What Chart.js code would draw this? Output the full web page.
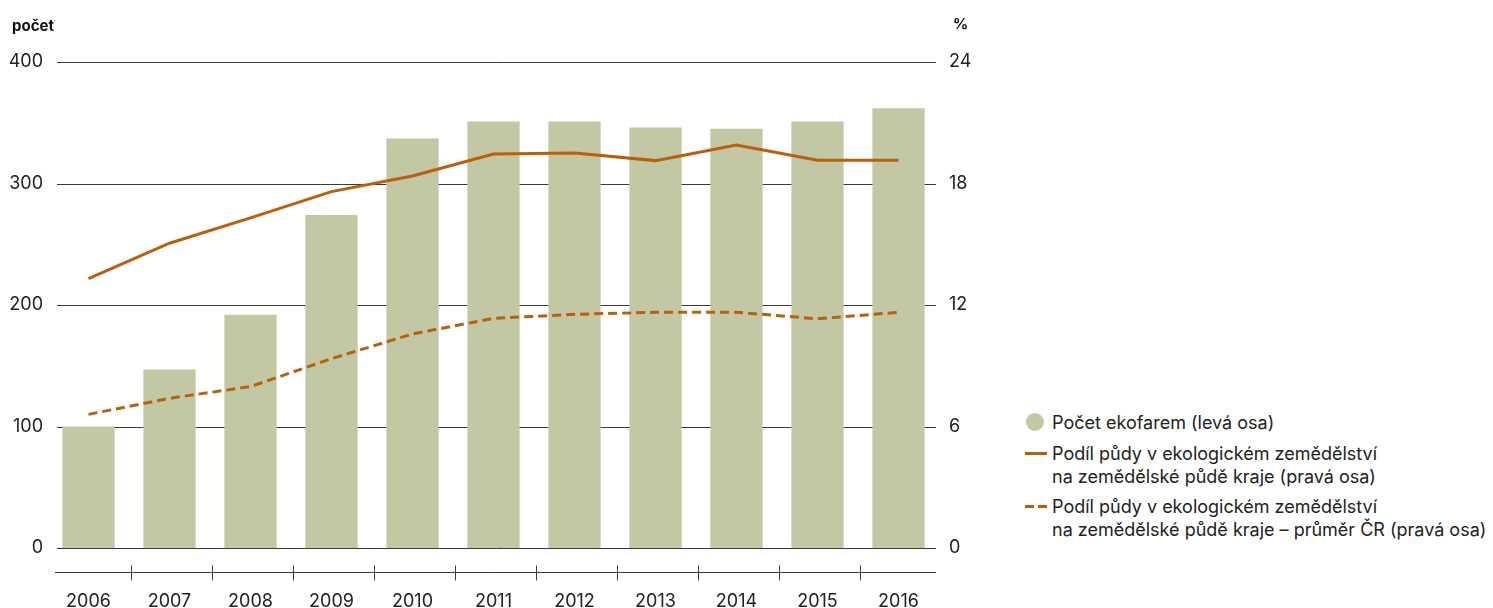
<!DOCTYPE html>
<html lang="cs">
<head>
<meta charset="utf-8">
<script src="https://cdn.jsdelivr.net/npm/chart.js@4"></script>
<style>
  html, body { margin: 0; padding: 0; background: #fff; }
  #wrap { position: relative; width: 1493px; height: 608px; overflow: hidden; font-family: Inter, Roboto, sans-serif; color: #222; }
  #c { position: absolute; left: 0; top: 0; }
  .axtitle { position: absolute; font-weight: 700; font-size: 15px; line-height: 18px; color: #111; }
  .lg { position: absolute; font-size: 18px; line-height: 23px; color: #222; white-space: nowrap; }
  .mk { position: absolute; }
</style>
</head>
<body>
<div id="wrap">
  <canvas id="c" width="1000" height="608"></canvas>
  <div class="axtitle" style="left:12px; top:17px;">počet</div>
  <div class="axtitle" style="left:953px; top:15px;">%</div>
  <div id="legend"></div>
</div>
<script>
const years = ['2006','2007','2008','2009','2010','2011','2012','2013','2014','2015','2016'];
const farmCounts = [100, 147, 192, 274, 337, 351, 351, 346, 345, 351, 362];
const shareRegion = [13.3, 15.05, 16.3, 17.6, 18.37, 19.46, 19.5, 19.13, 19.9, 19.15, 19.15];
const shareCzAvg = [6.6, 7.39, 7.97, 9.35, 10.57, 11.34, 11.54, 11.64, 11.64, 11.32, 11.64];
const leftTicks = [0, 100, 200, 300, 400];
const rightTicks = [0, 6, 12, 18, 24];
const labelBars = ['Počet ekofarem (levá osa)'];
const labelRegion = ['Podíl půdy v ekologickém zemědělství', 'na zemědělské půdě kraje (pravá osa)'];
const labelCz = ['Podíl půdy v ekologickém zemědělství', 'na zemědělské půdě kraje – průměr ČR (pravá osa)'];

const BAR = '#C2C8A3';
const LINE = '#B9600C';
const TXT = '#222';
const FONT = 'Inter, Roboto, sans-serif';

const decor = {
  id: 'decor',
  beforeDatasetsDraw(chart) {
    const ctx = chart.ctx, a = chart.chartArea, y = chart.scales.y;
    ctx.save();
    ctx.strokeStyle = '#3a3a3a';
    ctx.lineWidth = 1;
    y.ticks.forEach(t => {
      const py = Math.round(y.getPixelForValue(t.value)) + 0.5;
      ctx.beginPath();
      ctx.moveTo(a.left + 9, py);
      ctx.lineTo(a.right - 3, py);
      ctx.stroke();
    });
    ctx.restore();
  },
  afterDraw(chart) {
    const ctx = chart.ctx, a = chart.chartArea, x = chart.scales.x;
    const ay = a.bottom + 24.5;
    ctx.save();
    ctx.strokeStyle = '#3a3a3a';
    ctx.lineWidth = 1;
    ctx.beginPath();
    ctx.moveTo(a.left + 7, ay);
    ctx.lineTo(a.right - 3, ay);
    ctx.stroke();
    for (let i = 0; i < years.length - 1; i++) {
      const px = Math.round((x.getPixelForValue(i) + x.getPixelForValue(i + 1)) / 2) + 2.5;
      ctx.beginPath();
      ctx.moveTo(px, ay - 7);
      ctx.lineTo(px, ay + 8);
      ctx.stroke();
    }
    ctx.restore();
  }
};

new Chart(document.getElementById('c'), {
  data: {
    labels: years,
    datasets: [
      { type: 'line', label: labelRegion.join(' '), data: shareRegion, yAxisID: 'y2',
        borderColor: LINE, borderWidth: 3, pointRadius: 0, tension: 0, order: 0 },
      { type: 'line', label: labelCz.join(' '), data: shareCzAvg, yAxisID: 'y2',
        borderColor: LINE, borderWidth: 3, borderDash: [9, 5], pointRadius: 0, tension: 0, order: 1 },
      { type: 'bar', label: labelBars[0], data: farmCounts, yAxisID: 'y',
        backgroundColor: BAR, borderWidth: 0, categoryPercentage: 1, barPercentage: 0.645, order: 2 }
    ]
  },
  options: {
    responsive: false,
    animation: false,
    layout: { padding: { top: 62, bottom: 0, left: 0, right: 0 } },
    plugins: { legend: { display: false }, tooltip: { enabled: false } },
    scales: {
      x: {
        type: 'category', offset: true,
        grid: { display: false, drawTicks: false }, border: { display: false },
        ticks: { color: TXT, font: { family: FONT, size: 18 }, padding: 43, maxRotation: 0 },
        afterFit(s) { s.height = 60; }
      },
      y: {
        position: 'left', min: 0, max: 400,
        afterBuildTicks(s) { s.ticks = leftTicks.map(v => ({ value: v })); },
        grid: { display: false, drawTicks: false }, border: { display: false },
        ticks: { color: TXT, font: { family: FONT, size: 18 }, padding: 5 },
        afterFit(s) { s.width = 48; }
      },
      y2: {
        position: 'right', min: 0, max: 24,
        afterBuildTicks(s) { s.ticks = rightTicks.map(v => ({ value: v })); },
        grid: { display: false, drawTicks: false }, border: { display: false },
        ticks: { color: TXT, font: { family: FONT, size: 18 }, padding: 10 },
        afterFit(s) { s.width = 61; }
      }
    }
  },
  plugins: [decor]
});

// HTML legend built from the dataset labels
const lg = document.getElementById('legend');
function addText(lines, x, yCenter) {
  lines.forEach((t, i) => {
    const d = document.createElement('div');
    d.className = 'lg';
    d.textContent = t;
    d.style.left = x + 'px';
    d.style.top = (yCenter - 11.5 + i * 23) + 'px';
    lg.appendChild(d);
  });
}
function addMarker(html) { const d = document.createElement('div'); d.innerHTML = html; lg.appendChild(d.firstChild); }
addMarker('<div class="mk" style="left:1026px;top:413px;width:18px;height:18px;border-radius:50%;background:' + BAR + '"></div>');
addText(labelBars, 1052, 422);
addMarker('<div class="mk" style="left:1025px;top:452px;width:22px;height:0;border-top:3px solid ' + LINE + '"></div>');
addText(labelRegion, 1052, 453);
addMarker('<div class="mk" style="left:1025px;top:505px;width:9px;height:0;border-top:3px solid ' + LINE + '"></div>');
addMarker('<div class="mk" style="left:1038px;top:505px;width:9px;height:0;border-top:3px solid ' + LINE + '"></div>');
addText(labelCz, 1052, 506);
</script>
</body>
</html>
